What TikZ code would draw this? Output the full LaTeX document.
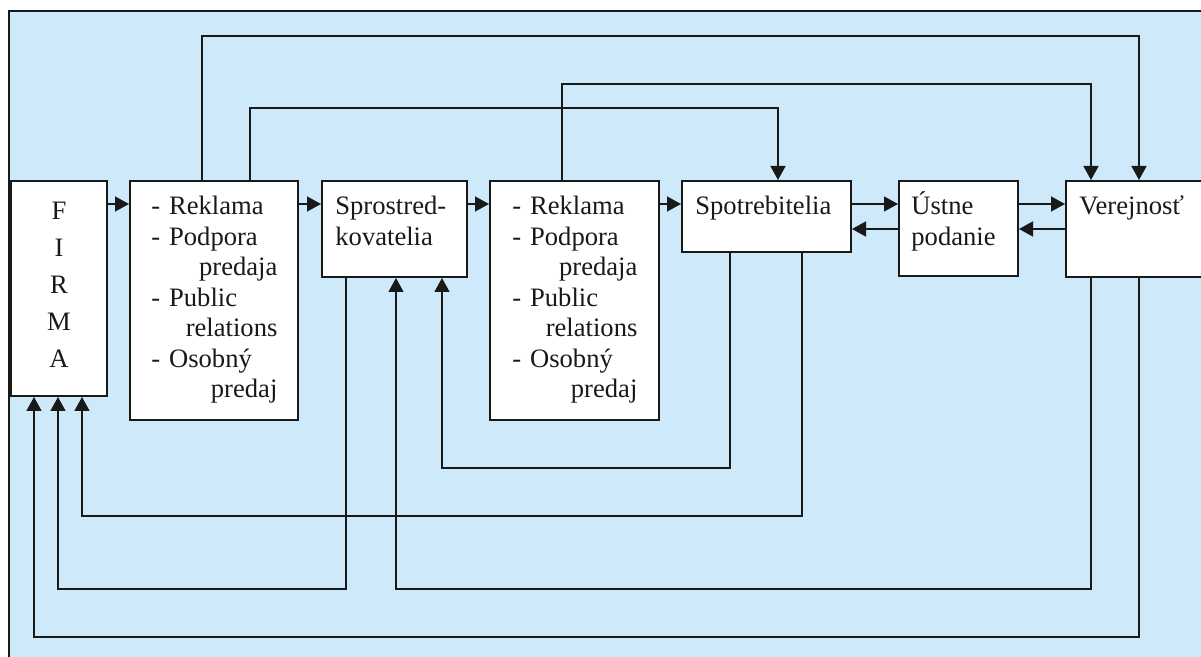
\documentclass[tikz,border=0pt]{standalone}
\usepackage{fontspec}
\setmainfont{Liberation Serif}
\usetikzlibrary{arrows.meta,fit}
\definecolor{panel}{RGB}{205,233,250}
\definecolor{ink}{RGB}{25,25,25}
\newcommand\pushright[1]{\makebox[\linewidth][r]{#1}}
\begin{document}
\begin{tikzpicture}[x=0.5pt,y=-0.5pt,
  box/.style={draw=ink, fill=white, line width=1pt, inner sep=0pt},
  link/.style={draw=ink, line width=0.8pt, -{Triangle[length=7pt,width=7.5pt]}},
  txt/.style={inner sep=0pt, text=ink, font=\fontsize{13.3}{15.25}\selectfont,
              align=left, anchor=base west},
]
\useasboundingbox (0,0) rectangle (1201,657);
\clip (0,0) rectangle (1201,657);

% panel with its left and top border
\fill[panel] (9,11) rectangle (1220,670);
\draw[ink, line width=0.8pt] (9,670) -- (9,11) -- (1220,11);

% boxes
\node[box, fit={(11,181) (107,396)}] (firma) {};
\node[box, fit={(130,181) (298,420)}] (mix1) {};
\node[box, fit={(322,181) (467,277)}] (spr) {};
\node[box, fit={(490,181) (659,420)}] (mix2) {};
\node[box, fit={(682,181) (851,252)}] (spot) {};
\node[box, fit={(899,181) (1018,276)}] (ust) {};
\node[box, fit={(1066,181) (1230,277)}] (ver) {};

% box texts
\node[txt, text width=40pt, align=center, anchor=base,
      font=\fontsize{13.3}{18.5}\selectfont] (firmaT) at (59,220) {F\\I\\R\\M\\A};
\node[txt, text width=63pt] (mix1T) at (151,215)
  {- Reklama\\- Podpora\\\pushright{predaja}\\- Public\\\pushright{relations}\\- Osobný\\\pushright{predaj}};
\node[txt, text width=65pt] (sprT) at (335,215) {Sprostred-\\kovatelia};
\node[txt, text width=62.5pt] (mix2T) at (512,215)
  {- Reklama\\- Podpora\\\pushright{predaja}\\- Public\\\pushright{relations}\\- Osobný\\\pushright{predaj}};
\node[txt] (spotT) at (695,215) {Spotrebitelia};
\node[txt, text width=50pt] (ustT) at (911,215) {Ústne\\podanie};
\node[txt] (verT) at (1079,215) {Verejnosť};

% routes over the top
\draw[link] (mix1.north -| 202,0) |- (1139,36) -- (ver.north -| 1139,0);
\draw[link] (mix1.north -| 250,0) |- (778,108) -- (spot.north -| 778,0);
\draw[link] (mix2.north -| 562,0) |- (1091,84) -- (ver.north -| 1091,0);

% main chain
\draw[link] (firma.east |- 0,204) -- (mix1.west |- 0,204);
\draw[link] (mix1.east |- 0,204) -- (spr.west |- 0,204);
\draw[link] (spr.east |- 0,204) -- (mix2.west |- 0,204);
\draw[link] (mix2.east |- 0,204) -- (spot.west |- 0,204);
\draw[link] (spot.east |- 0,204) -- (ust.west |- 0,204);
\draw[link] (ust.west |- 0,229) -- (spot.east |- 0,229);
\draw[link] (ust.east |- 0,204) -- (ver.west |- 0,204);
\draw[link] (ver.west |- 0,229) -- (ust.east |- 0,229);

% feedback routes underneath
\draw[link] (spot.south -| 730,0) |- (442,468) -- (spr.south -| 442,0);
\draw[link] (spot.south -| 802,0) |- (82,516) -- (firma.south -| 82,0);
\draw[link] (spr.south -| 346,0) |- (58,589) -- (firma.south -| 58,0);
\draw[link] (ver.south -| 1091,0) |- (396,589) -- (spr.south -| 396,0);
\draw[link] (ver.south -| 1139,0) |- (34,637) -- (firma.south -| 34,0);
\end{tikzpicture}
\end{document}
